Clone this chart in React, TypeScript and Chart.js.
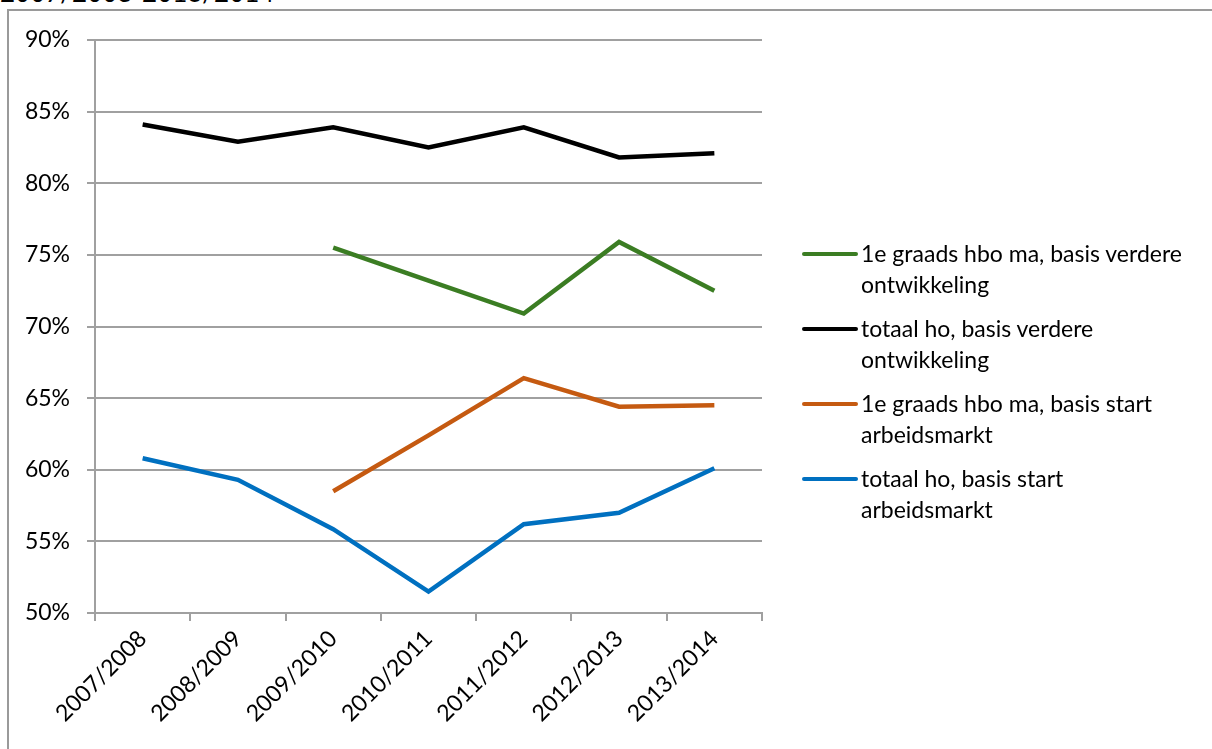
import React, { useEffect, useRef } from "react";
import { Chart, registerables } from "chart.js";

Chart.register(...registerables);

const categories = ["2007/2008", "2008/2009", "2009/2010", "2010/2011", "2011/2012", "2012/2013", "2013/2014"];
const greenValues = [null, null, 75.5, 73.2, 70.9, 75.9, 72.5];
const blackValues = [84.1, 82.9, 83.9, 82.5, 83.9, 81.8, 82.1];
const orangeValues = [null, null, 58.5, 62.4, 66.4, 64.4, 64.5];
const blueValues = [60.8, 59.3, 55.85, 51.5, 56.2, 57.0, 60.1];
const seriesLabels = [
  ["1e graads hbo ma, basis verdere", "ontwikkeling"],
  ["totaal ho, basis verdere", "ontwikkeling"],
  ["1e graads hbo ma, basis start", "arbeidsmarkt"],
  ["totaal ho, basis start", "arbeidsmarkt"],
];
const seriesColors = ["#3b7d23", "#000000", "#c55a11", "#0070c0"];
const titleText = "2007/2008-2013/2014";

const FONT = "Lato, 'Open Sans', sans-serif";

export default function App() {
  const ref = useRef<HTMLCanvasElement | null>(null);

  useEffect(() => {
    document.body.style.margin = "0";
    const canvas = ref.current;
    if (!canvas) return;
    const values = [greenValues, blackValues, orangeValues, blueValues];
    const chart = new Chart(canvas, {
      type: "line",
      data: {
        labels: categories,
        datasets: values.map((v, i) => ({
          label: seriesLabels[i].join(" "),
          data: v,
          borderColor: seriesColors[i],
          backgroundColor: seriesColors[i],
          borderWidth: 4.5,
          pointRadius: 0,
          tension: 0,
          fill: false,
        })),
      },
      options: {
        animation: false,
        responsive: false,
        maintainAspectRatio: false,
        layout: { padding: { left: 0, right: 450, top: 40, bottom: 0 } },
        plugins: { legend: { display: false }, tooltip: { enabled: false }, title: { display: false } },
        scales: {
          x: {
            type: "category",
            offset: true,
            grid: {
              offset: true,
              drawOnChartArea: false,
              drawTicks: true,
              tickLength: 8,
              color: "#a0a0a0",
              lineWidth: 2,
            },
            border: { display: true, color: "#a0a0a0", width: 2 },
            ticks: {
              minRotation: 45,
              maxRotation: 45,
              autoSkip: false,
              color: "#000",
              padding: 4,
              font: { family: FONT, size: 23 },
            },
            afterFit: (s: any) => {
              s.height = 136;
            },
          },
          y: {
            min: 50,
            max: 90,
            grid: { color: "#a0a0a0", lineWidth: 2, tickLength: 8, drawTicks: true },
            border: { display: true, color: "#a0a0a0", width: 2 },
            ticks: {
              stepSize: 5,
              color: "#000",
              padding: 17,
              font: { family: FONT, size: 23 },
              callback: (v: any) => v + "%",
            },
            afterFit: (s: any) => {
              s.width = 95;
            },
          },
        },
      },
    });
    return () => chart.destroy();
  }, []);

  return (
    <div style={{ position: "fixed", left: 0, top: 0, width: 1212, height: 749, overflow: "hidden", background: "#fff" }}>
      <div
        style={{
          position: "absolute",
          left: 0,
          top: -23,
          fontFamily: FONT,
          fontSize: 26,
          lineHeight: "30px",
          color: "#000",
          whiteSpace: "nowrap",
        }}
      >
        {titleText}
      </div>
      <div
        style={{
          position: "absolute",
          left: 7,
          top: 9,
          width: 1300,
          height: 900,
          borderLeft: "2px solid #9a9a9a",
          borderTop: "2px solid #9a9a9a",
        }}
      />
      <canvas ref={ref} width={1212} height={749} style={{ position: "absolute", left: 0, top: 0 }} />
      <div style={{ position: "absolute", left: 802, top: 238, fontFamily: FONT, fontSize: 23, color: "#000" }}>
        {seriesLabels.map((lines, i) => (
          <div key={i} style={{ position: "absolute", top: i * 75, left: 0, width: 400 }}>
            <div
              style={{
                position: "absolute",
                left: 0,
                top: 14,
                width: 56,
                height: 4,
                borderRadius: 2,
                background: seriesColors[i],
              }}
            />
            <div style={{ position: "absolute", left: 59, top: 0, lineHeight: "31px", whiteSpace: "nowrap" }}>
              {lines.map((l, j) => (
                <div key={j}>{l}</div>
              ))}
            </div>
          </div>
        ))}
      </div>
    </div>
  );
}
